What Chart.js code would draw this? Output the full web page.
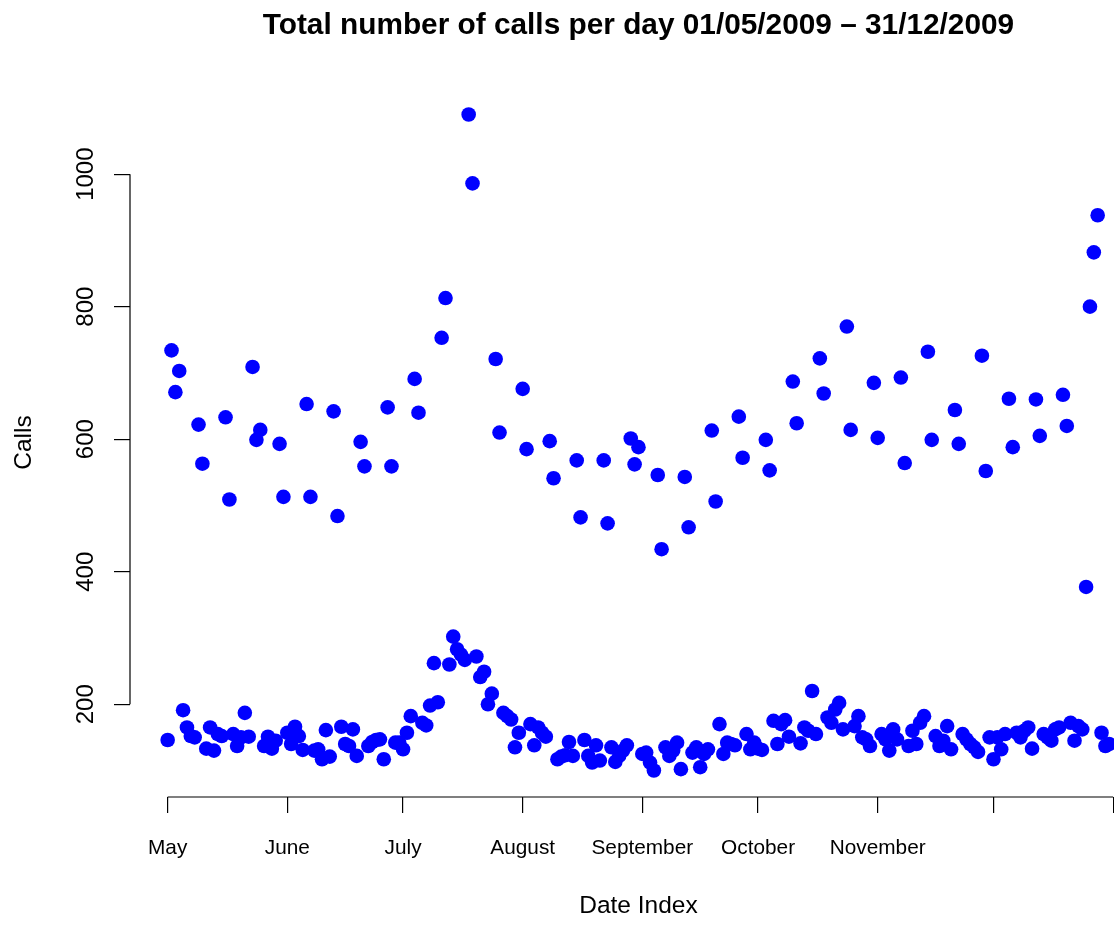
<!DOCTYPE html>
<html>
<head>
<meta charset="utf-8">
<script src="https://cdn.jsdelivr.net/npm/chart.js@4.4.1/dist/chart.umd.min.js"></script>
<style>
  html, body { margin: 0; padding: 0; background: #fff; }
  #calls { display: block; }
</style>
</head>
<body>
<canvas id="calls" width="1114" height="925"></canvas>
<script>
  // daily totals, 1 May 2009 .. 31 Dec 2009 (day index = position + 1)
  var calls = [
    146, 734, 671, 703, 191, 165, 152, 150, 622, 563,
    133, 165, 130, 155, 152, 633, 509, 155, 137, 150,
    187, 151, 709, 599, 614, 137, 151, 133, 145, 593,
    513, 157, 140, 166, 152, 131, 653, 513, 130, 132,
    117, 161, 121, 642, 484, 166, 140, 137, 162, 122,
    596, 559, 137, 143, 146, 147, 117, 648, 559, 142,
    142, 132, 157, 182, 691, 640, 172, 168, 198, 262,
    203, 753, 813, 260, 302, 283, 275, 267, 1090, 986,
    272, 241, 249, 200, 216, 721, 610, 187, 182, 177,
    135, 157, 676, 585, 170, 138, 165, 157, 151, 597,
    541, 117, 121, 123, 143, 122, 568, 482, 146, 122,
    112, 138, 115, 568, 473, 135, 113, 122, 130, 138,
    601, 562, 588, 125, 127, 112, 100, 546, 434, 135,
    122, 130, 142, 102, 543, 467, 127, 135, 105, 125,
    132, 613, 506, 170, 125, 142, 140, 138, 634, 572,
    155, 132, 142, 133, 131, 599, 553, 175, 140, 170,
    176, 151, 687, 624, 141, 165, 160, 220, 155, 722,
    669, 180, 172, 192, 202, 162, 770, 614, 167, 182,
    150, 147, 137, 685, 602, 155, 147, 130, 162, 147,
    693, 564, 137, 160, 140, 172, 182, 732, 599, 152,
    137, 145, 167, 132, 644, 593, 155, 147, 140, 135,
    128, 726, 552, 150, 117, 150, 132, 155, 661, 588,
    157, 150, 160, 165, 133, 660, 605, 155, 150, 145,
    162, 165, 667, 620, 172, 145, 167, 162, 377, 800,
    882, 938, 157, 137, 140
  ];

  // first day of each month as a day index, and their labels
  var monthStart = [1, 32, 62, 93, 124, 154, 185, 215, 246];
  var monthNames = ["May", "June", "July", "August", "September", "October", "November", "", ""];
  var yTicks = [200, 400, 600, 800, 1000];

  var mainTitle = 'Total number of calls per day 01/05/2009 \u2013 31/12/2009';
  var xTitle = 'Date Index';

  var font = "'Liberation Sans', Arial, Helvetica, sans-serif";

  // R draws axis lines only from the first to the last tick,
  // and centres the titles on the (wider) plot region
  var rAxes = {
    id: 'rAxes',
    afterDraw: (chart) => {
      var ctx = chart.ctx;
      var xs = chart.scales.x, ys = chart.scales.y;
      var area = chart.chartArea;
      ctx.save();
      ctx.strokeStyle = '#000';
      ctx.lineWidth = 1.2;
      ctx.beginPath();
      ctx.moveTo(xs.getPixelForValue(monthStart[0]), area.bottom);
      ctx.lineTo(xs.getPixelForValue(monthStart[monthStart.length - 1]), area.bottom);
      ctx.moveTo(area.left, ys.getPixelForValue(yTicks[0]));
      ctx.lineTo(area.left, ys.getPixelForValue(yTicks[yTicks.length - 1]));
      ctx.stroke();

      var cx = xs.getPixelForValue((1 + calls.length) / 2);
      ctx.fillStyle = '#000';
      ctx.textAlign = 'center';
      ctx.textBaseline = 'middle';
      ctx.font = 'bold 29.8px ' + font;
      ctx.fillText(mainTitle, cx, 26);
      ctx.font = '24.5px ' + font;
      ctx.fillText(xTitle, cx, 906);
      ctx.restore();
    }
  };

  new Chart(document.getElementById('calls'), {
    type: 'scatter',
    data: {
      datasets: [{
        data: calls.map((v, i) => ({ x: i + 1, y: v })),
        backgroundColor: '#0000ff',
        borderWidth: 0,
        pointRadius: 7.3,
        pointHoverRadius: 7.3,
        clip: false
      }]
    },
    options: {
      responsive: false,
      animation: false,
      events: [],
      layout: { autoPadding: false, padding: { top: 88, right: 0, bottom: 0, left: 0 } },
      plugins: {
        legend: { display: false },
        tooltip: { enabled: false },
        title: { display: false }
      },
      scales: {
        x: {
          type: 'linear',
          min: -8.76,
          max: 246.23,
          border: { display: false },
          grid: { drawOnChartArea: false, drawTicks: true, tickLength: 16, color: '#000', lineWidth: 1.2 },
          afterBuildTicks: (scale) => { scale.ticks = monthStart.map(v => ({ value: v })); },
          afterFit: (scale) => {
            scale.height = 128;
            scale.paddingLeft = 0;
            scale.paddingRight = 0;
          },
          ticks: {
            autoSkip: false,
            maxRotation: 0,
            padding: 23,
            color: '#000',
            font: { family: font, size: 20.8 },
            callback: (v) => monthNames[monthStart.indexOf(v)]
          }
        },
        y: {
          type: 'linear',
          min: 60,
          max: 1130,
          border: { display: false },
          grid: { drawOnChartArea: false, drawTicks: true, tickLength: 16, color: '#000', lineWidth: 1.2 },
          afterBuildTicks: (scale) => { scale.ticks = yTicks.map(v => ({ value: v })); },
          afterFit: (scale) => {
            scale.width = 130;
            scale.paddingTop = 0;
            scale.paddingBottom = 0;
          },
          ticks: {
            autoSkip: false,
            minRotation: 90,
            maxRotation: 90,
            crossAlign: 'center',
            padding: 1,
            color: '#000',
            font: { family: font, size: 24 },
            callback: (v) => String(v)
          },
          title: {
            display: true,
            text: 'Calls',
            color: '#000',
            font: { family: font, size: 24.5, lineHeight: 1.2 },
            padding: { top: 9.3, bottom: 0 }
          }
        }
      }
    },
    plugins: [rAxes]
  });
</script>
</body>
</html>
